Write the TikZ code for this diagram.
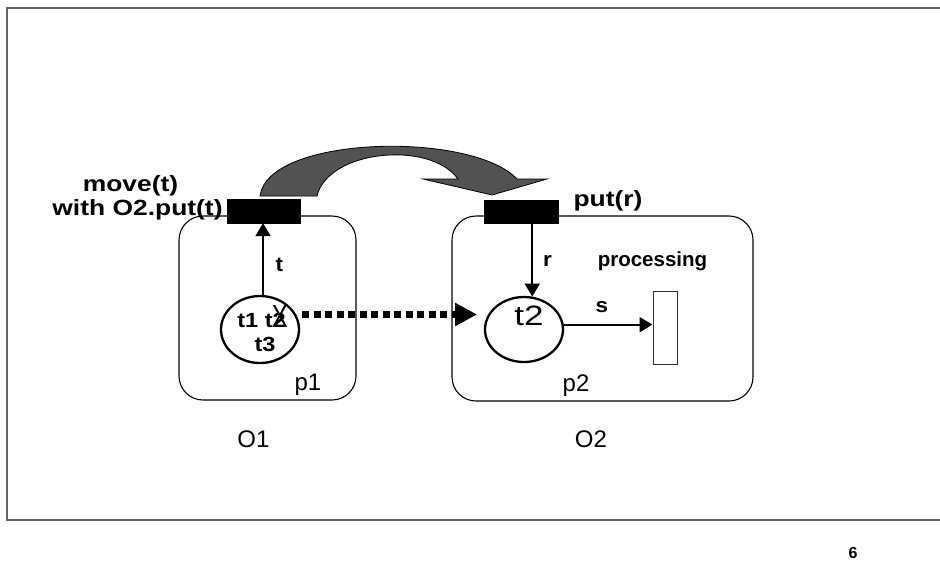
\documentclass[tikz,border=0pt]{standalone}
\usepackage{fontspec}
\usepackage{graphicx}
\setmainfont{Liberation Sans}
\usetikzlibrary{arrows.meta,shapes.geometric}

% labels set a little wider than tall
\newcommand{\widetext}[2][1.2]{\scalebox{#1}[1]{#2}}

\begin{document}
\begin{tikzpicture}[x=1pt,y=-1pt,
  frameline/.style={draw=black!60, line width=1.4pt},
  objbox/.style={draw, line width=1.1pt, rounded corners=24pt, inner sep=0pt},
  place/.style={ellipse, draw, line width=2.3pt, inner sep=0pt},
  trans/.style={fill=black, draw=black, inner sep=0pt},
  arc/.style={line width=2pt, -{Triangle[length=13pt,width=15pt]}},
  movearc/.style={line width=6.5pt, dash pattern=on 7pt off 4.5pt},
  movetip/.style={line width=6.5pt, -{Triangle[length=22pt,width=22pt]}},
  bigarrow/.style={fill=black!68, draw=black, line width=0.8pt},
  blabel/.style={font=\bfseries\fontsize{22}{22}\selectfont, inner sep=0pt, anchor=base},
  slabel/.style={font=\bfseries\fontsize{20.5}{20.5}\selectfont, inner sep=0pt, anchor=base},
  rlabel/.style={font=\fontsize{24}{24}\selectfont, inner sep=0pt, anchor=base}
]
\useasboundingbox (0,0) rectangle (940,563);

% slide frame
\draw[frameline] (940,8) -- (7,8) -- (7,520) -- (940,520);

% objects
\node[objbox, minimum width=177pt, minimum height=184pt] (o1) at (267.5,308) {};
\node[objbox, minimum width=301pt, minimum height=185pt] (o2) at (602.5,308.5) {};

% transitions
\node[trans, minimum width=73pt, minimum height=24pt] (tr1) at (263.5,211) {};
\node[trans, minimum width=74pt, minimum height=23pt] (tr2) at (521,211.5) {};

% places
\node[place, minimum width=78pt, minimum height=67pt] (e1) at (260,329.5) {};
\node[place, minimum width=78pt, minimum height=65pt] (e2) at (524,329.5) {};

% processing transition
\node[draw=black!80, line width=1pt, fill=white, minimum width=24pt, minimum height=73pt, inner sep=0pt] (proc) at (665,327.5) {};

% arcs
\draw[arc] (e1.85) -- (e1.85 |- tr1.south);
\draw[arc] (e2.76 |- tr2.south) -- (e2.76);
\draw[arc] (e2.7) -- (proc.west |- e2.7);

% token movement between the objects
\coordinate (mvA) at (302,314.5);
\coordinate (mvB) at (455,314.5);
\coordinate (mvC) at (477,314.5);
\draw[movearc] (mvA) -- (mvB);
\draw[movetip] (mvB) -- (mvC);

% synchronisation arrow from move(t) to put(r)
\draw[bigarrow] (260,196) .. controls (268,135) and (472,131) .. (517,179)
  -- (547,179) -- (492,195) -- (423,179) -- (458,179)
  .. controls (430,140) and (328,150) .. (317,196) -- cycle;

% labels
\node[blabel] (lmove) at (130.5,191) {\widetext{move(t)}};
\node[blabel] (lwith) at (137.5,215) {\widetext{with O2.put(t)}};
\node[blabel] (lput) at (608,206) {\widetext{put(r)}};
\node[slabel] (lproc) at (652.5,266) {processing};
\node[slabel] (lt) at (279.5,271) {\widetext[1.1]{t}};
\node[slabel] (lr) at (547.5,266.5) {\widetext[1.1]{r}};
\node[slabel] (ls) at (602,312.5) {\widetext[1.1]{s}};
\node[slabel] (tok1) at (261.5,327) {\widetext[1.15]{t1 t2}};
\node[slabel] (tok3) at (265,351.5) {\widetext[1.15]{t3}};
\node[font=\fontsize{32}{32}\selectfont, inner sep=0pt, anchor=base] (cross) at (280,327) {\widetext[0.75]{X}};
\node[font=\fontsize{28}{28}\selectfont, inner sep=0pt, anchor=base] (tok2) at (529,325) {\widetext[1.25]{t2}};
\node[rlabel] (lp1) at (308,390) {p1};
\node[rlabel] (lp2) at (576,391.5) {p2};
\node[rlabel] (lo1) at (253.5,447) {O1};
\node[rlabel] (lo2) at (591,447) {O2};
\node[font=\bfseries\fontsize{16}{16}\selectfont, inner sep=0pt, anchor=base] (page) at (853,558) {6};
\end{tikzpicture}
\end{document}
